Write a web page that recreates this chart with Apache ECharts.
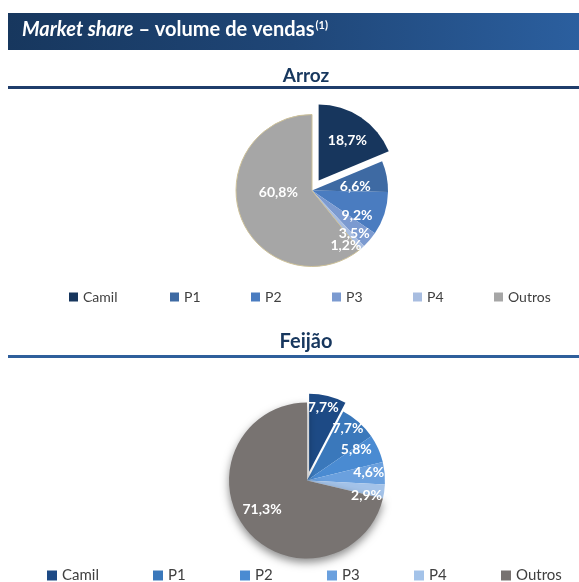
<!DOCTYPE html>
<html>
<head>
<meta charset="utf-8">
<title>Market share – volume de vendas</title>
<script src="https://cdn.jsdelivr.net/npm/echarts@6/dist/echarts.min.js"></script>
<style>
  html, body { margin: 0; padding: 0; background: #fff; }
  #chart { width: 579px; height: 582px; }
</style>
</head>
<body>
<div id="chart"></div>
<script>
// dados
var categorias = ['Camil', 'P1', 'P2', 'P3', 'P4', 'Outros'];
var arrozValores = [18.7, 6.6, 9.2, 3.5, 1.2, 60.8];
var feijaoValores = [7.7, 7.7, 5.8, 4.6, 2.9, 71.3];

var arrozCores = ['#17365d', '#3e6aa3', '#4a7cc0', '#7b9ad0', '#a8bde0', '#a6a6a6'];
var feijaoCores = ['#1d4a85', '#3a78bb', '#4a8bd2', '#6aa0de', '#a4c3e9', '#787371'];

// pequenos ajustes dos rótulos (dx, dy)
var arrozAjuste = [[6, -6], [3, 4], [6, 13], [11, 16], [7, 24], [5, -12]];
var feijaoAjuste = [[4, -24], [13, -21], [11, -14], [20, -4], [18, 9], [-12, 3]];

var fonte = 'Lato, "Open Sans", sans-serif';

function fmt(p) {
  return p.value.toFixed(1).replace('.', ',') + '%';
}

function dadosPizza(valores, cores, extraOutros) {
  return valores.map(function (v, i) {
    var d = { name: categorias[i], value: v, itemStyle: { color: cores[i] } };
    if (i === 0) d.selected = true;
    if (i === valores.length - 1 && extraOutros) d.itemStyle = Object.assign(d.itemStyle, extraOutros);
    return d;
  });
}

function legenda(top, left, cores, quad, larguras, tam) {
  return {
    top: top,
    left: left,
    width: 575 - left,
    padding: 0,
    orient: 'horizontal',
    itemWidth: quad,
    itemHeight: quad,
    itemGap: 0,
    icon: 'rect',
    selectedMode: false,
    textStyle: { fontFamily: fonte, fontSize: tam, color: '#404040', lineHeight: tam },
    data: categorias.map(function (c, i) {
      return {
        name: c,
        itemStyle: { color: cores[i], borderWidth: 0, shadowBlur: 0, shadowOffsetY: 0 },
        textStyle: { width: larguras[i] }
      };
    })
  };
}

var chart = echarts.init(document.getElementById('chart'));

var rotulo = {
  position: 'inside',
  formatter: fmt,
  color: '#fff',
  fontFamily: fonte,
  fontWeight: 'bold',
  fontSize: 14,
  overflow: 'none'
};

var option = {
  animation: false,
  graphic: [
    {
      type: 'rect',
      shape: { x: 8, y: 13, width: 571, height: 37 },
      style: {
        fill: new echarts.graphic.LinearGradient(0, 0, 1, 0, [
          { offset: 0, color: '#17375e' },
          { offset: 0.5, color: '#1f4677' },
          { offset: 1, color: '#2b5f9f' }
        ])
      }
    },
    {
      type: 'text',
      left: 22,
      top: 20,
      style: {
        text: '{i|Market share}{b| – volume de vendas}{s|(1)}',
        rich: {
          i: { fontFamily: fonte, fontSize: 20, fontWeight: 'bold', fontStyle: 'italic', fill: '#fff' },
          b: { fontFamily: fonte, fontSize: 20, fontWeight: 'bold', fill: '#fff' },
          s: { fontFamily: fonte, fontSize: 11, fontWeight: 'bold', fill: '#fff', verticalAlign: 'top', padding: [0, 0, 9, 1] }
        }
      }
    },
    { type: 'rect', shape: { x: 8, y: 86, width: 571, height: 3 }, style: { fill: '#1f3d6b' } },
    { type: 'rect', shape: { x: 8, y: 355, width: 571, height: 3 }, style: { fill: '#2f5f9b' } }
  ],
  title: [
    {
      text: 'Arroz', left: 301, top: 61, textAlign: 'center',
      textStyle: { fontFamily: fonte, fontSize: 19, fontWeight: 'bold', color: '#17375e' }
    },
    {
      text: 'Feijão', left: 301, top: 327, textAlign: 'center',
      textStyle: { fontFamily: fonte, fontSize: 20, fontWeight: 'bold', color: '#17375e' }
    }
  ],
  legend: [
    legenda(290, 69, arrozCores, 9, [87, 67, 67, 67, 67, 45], 14),
    legenda(568, 47, feijaoCores, 10, [91, 72, 72, 72, 72, 45], 15)
  ],
  series: [
    {
      name: 'Arroz',
      type: 'pie',
      center: [312, 190.5],
      radius: [0, 76],
      startAngle: 90,
      selectedMode: 'single',
      selectedOffset: 12,
      label: rotulo,
      labelLayout: function (p) {
        return { dx: arrozAjuste[p.dataIndex][0], dy: arrozAjuste[p.dataIndex][1] };
      },
      labelLine: { show: false },
      emphasis: { disabled: true },
      data: dadosPizza(arrozValores, arrozCores, { borderColor: '#cdc199', borderWidth: 1 })
    },
    {
      name: 'Feijão',
      type: 'pie',
      center: [307, 480.5],
      radius: [0, 78],
      startAngle: 90,
      selectedMode: 'single',
      selectedOffset: 9,
      label: rotulo,
      labelLayout: function (p) {
        return { dx: feijaoAjuste[p.dataIndex][0], dy: feijaoAjuste[p.dataIndex][1] };
      },
      labelLine: { show: false },
      emphasis: { disabled: true },
      data: dadosPizza(feijaoValores, feijaoCores, {
        shadowBlur: 8, shadowColor: 'rgba(0,0,0,0.45)', shadowOffsetY: 4
      })
    }
  ]
};

chart.setOption(option);
</script>
</body>
</html>
